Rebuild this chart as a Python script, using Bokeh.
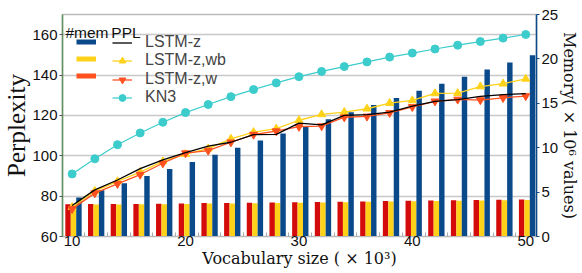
from bokeh.plotting import figure
from bokeh.models import Range1d, LinearAxis, FixedTicker, Legend, LegendItem, Label
from bokeh.embed import file_html
from bokeh.resources import INLINE

# ---- data ----
vocab = [10, 12, 14, 16, 18, 20, 22, 24, 26, 28, 30, 32, 34, 36, 38, 40, 42, 44, 46, 48, 50]

# perplexity (left axis)
ppl_lstm_z = [75.4, 83.1, 88.0, 93.6, 98.0, 101.5, 104.8, 106.7, 110.5, 110.6, 116.2,
              115.3, 120.0, 120.4, 121.6, 124.6, 127.0, 127.8, 129.4, 130.3, 130.8]
ppl_lstm_wb = [74.5, 82.5, 87.3, 91.9, 97.2, 100.8, 103.5, 108.4, 111.7, 113.4, 117.6,
               120.5, 121.6, 123.3, 126.1, 127.4, 130.9, 131.0, 134.3, 135.7, 138.1]
ppl_lstm_w = [73.7, 81.5, 86.1, 90.7, 96.3, 101.3, 102.6, 106.7, 110.5, 112.2, 114.4,
              114.7, 119.1, 119.5, 121.3, 124.2, 127.0, 127.9, 127.6, 128.7, 129.6]
ppl_kn3 = [91.0, 98.5, 105.5, 111.3, 116.6, 121.4, 125.4, 129.3, 132.8, 136.1, 139.2,
           141.8, 144.2, 146.5, 148.9, 150.9, 152.9, 154.8, 156.6, 158.3, 160.1]

# memory (right axis, x 10^6 values)
mem_lstm_z = [4.4, 5.2, 6.0, 6.8, 7.6, 8.4, 9.2, 10.0, 10.8, 11.6, 12.4,
              13.2, 14.0, 14.8, 15.6, 16.4, 17.2, 18.0, 18.8, 19.6, 20.4]
mem_lstm_wb = [3.58, 3.60, 3.61, 3.62, 3.64, 3.67, 3.71, 3.73, 3.75, 3.78, 3.81,
               3.83, 3.86, 3.90, 3.95, 3.97, 4.00, 4.03, 4.06, 4.09, 4.12]
mem_lstm_w = [3.63, 3.65, 3.66, 3.67, 3.69, 3.72, 3.76, 3.78, 3.80, 3.83, 3.86,
              3.88, 3.91, 3.95, 4.00, 4.02, 4.05, 4.08, 4.11, 4.14, 4.17]

x_ticks = [10, 20, 30, 40, 50]
left_ticks = [60, 80, 100, 120, 140, 160]
right_ticks = [0, 5, 10, 15, 20, 25]

BLUE = "#0b4a8a"
YELLOW = "#ffd21a"
RED = "#d40b0b"
ORANGE = "#ff5020"
CYAN = "#3ccccc"
SANS = "Liberation Sans"
SERIF = "DejaVu Serif"

p = figure(width=582, height=273, output_backend="svg", toolbar_location=None,
           x_range=Range1d(9.15, 50.95), y_range=Range1d(60, 170),
           min_border_top=14, min_border_left=58, min_border_right=39, min_border_bottom=37)
p.extra_y_ranges = {"mem": Range1d(0, 25)}
p.background_fill_color = "white"
p.outline_line_color = "#bbbbbb"
p.outline_line_width = 1.5

# grid
p.xgrid.visible = False
p.ygrid.ticker = FixedTicker(ticks=left_ticks)
p.ygrid.grid_line_color = "#c8c8c8"
p.ygrid.grid_line_width = 1.5

# bars (memory)
bw = 0.48
p.vbar(x=[v - 0.36 for v in vocab], top=mem_lstm_w, bottom=0, width=bw,
       y_range_name="mem", fill_color=RED, line_color=None)
p.vbar(x=[v + 0.12 for v in vocab], top=mem_lstm_wb, bottom=0, width=bw,
       y_range_name="mem", fill_color=YELLOW, line_color=None)
p.vbar(x=[v + 0.60 for v in vocab], top=mem_lstm_z, bottom=0, width=bw,
       y_range_name="mem", fill_color=BLUE, line_color=None)

# lines (perplexity)
l_kn = p.line(vocab, ppl_kn3, line_color=CYAN, line_width=1.2)
s_kn = p.scatter(vocab, ppl_kn3, marker="circle", size=8, fill_color=CYAN, line_color=CYAN)
l_wb = p.line(vocab, ppl_lstm_wb, line_color=YELLOW, line_width=1.3)
s_wb = p.scatter(vocab, ppl_lstm_wb, marker="triangle", size=8, fill_color=YELLOW, line_color=YELLOW)
l_w = p.line(vocab, ppl_lstm_w, line_color=ORANGE, line_width=1.3)
s_w = p.scatter(vocab, ppl_lstm_w, marker="inverted_triangle", size=8, fill_color=ORANGE, line_color=ORANGE)
l_z = p.line(vocab, ppl_lstm_z, line_color="black", line_width=1.3)

# axes
xa = p.xaxis[0]
xa.ticker = FixedTicker(ticks=x_ticks, minor_ticks=[v + 1.12 for v in vocab[:-1]])
xa.axis_label = "Vocabulary size ( \u00d7 10\u00b3)"
xa.axis_line_color = "#bbbbbb"
xa.major_tick_line_color = None
xa.major_tick_in = 0
xa.major_tick_out = 0
xa.minor_tick_in = 4
xa.minor_tick_out = 0
xa.minor_tick_line_color = "#aaaaaa"
xa.major_label_standoff = -1
xa.axis_label_standoff = 0

ya = p.yaxis[0]
ya.ticker = FixedTicker(ticks=left_ticks)
ya.axis_label = "Perplexity"
ya.axis_line_color = "#5f935f"
ya.axis_line_width = 1.5
ya.major_tick_in = 0
ya.major_tick_out = 3
ya.major_tick_line_color = "#555555"
ya.minor_tick_line_color = None
ya.major_label_standoff = 2
ya.axis_label_standoff = -1

ra = LinearAxis(y_range_name="mem", ticker=FixedTicker(ticks=right_ticks))
ra.axis_label = "Memory( \u00d7 10\u2076 values)"
ra.axis_line_color = BLUE
ra.axis_line_width = 1.5
ra.major_tick_in = 0
ra.major_tick_out = 3
ra.major_tick_line_color = BLUE
ra.minor_tick_line_color = None
ra.major_label_standoff = 2
ra.axis_label_standoff = -1
p.add_layout(ra, "right")

for ax, lfont, lsize in ((xa, SERIF, "16px"), (ya, "Liberation Serif", "25px"), (ra, SERIF, "16px")):
    ax.major_label_text_font = SANS
    ax.major_label_text_font_size = "15px"
    ax.major_label_text_color = "#111111"
    ax.axis_label_text_font = lfont
    ax.axis_label_text_font_style = "normal"
    ax.axis_label_text_font_size = lsize
    ax.axis_label_text_color = "#111111"

# legend swatches for the memory bars (single-point lines: nothing drawn in the plot)
d_blue = p.line(x=vocab[:1], y=[0], line_color=BLUE, line_width=5)
d_yel = p.line(x=vocab[:1], y=[0], line_color=YELLOW, line_width=5)
d_red = p.line(x=vocab[:1], y=[0], line_color=ORANGE, line_width=5)

common = dict(background_fill_alpha=0, border_line_color=None, padding=0, margin=0,
              glyph_height=17, label_height=17, label_text_font=SANS)

legA = Legend(items=[LegendItem(label=" ", renderers=[d_blue]),
                     LegendItem(label=" ", renderers=[d_yel]),
                     LegendItem(label=" ", renderers=[d_red])],
              location=(14, 152), glyph_width=20, label_standoff=0, spacing=-9,
              label_text_font_size="18px", **common)
p.add_layout(legA)

ppl_items = [("LSTM-z", [l_z], 185),
             ("LSTM-z,wb", [l_wb, s_wb], 167),
             ("LSTM-z,w", [l_w, s_w], 148),
             ("KN3", [l_kn, s_kn], 130)]
for lab, rends, ypos in ppl_items:
    p.add_layout(Legend(items=[LegendItem(label=lab, renderers=rends)],
                        location=(50, ypos), glyph_width=20, label_standoff=13,
                        spacing=0, label_text_font_size="16px", **common))

p.add_layout(Label(x=9.41, y=161.3, text="#mem", text_font=SANS, text_font_size="15.5px",
                   text_baseline="alphabetic", text_color="#111111"))
p.add_layout(Label(x=13.46, y=161.3, text="PPL", text_font=SANS, text_font_size="15.5px",
                   text_baseline="alphabetic", text_color="#111111"))

open("out.html", "w").write(file_html(p, INLINE))
